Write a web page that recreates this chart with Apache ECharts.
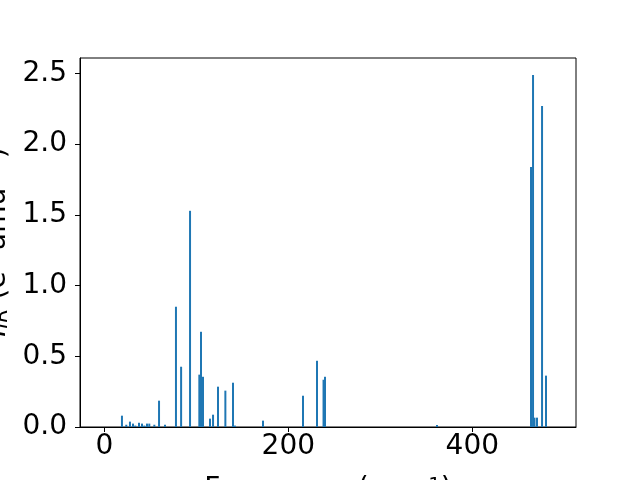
<!DOCTYPE html>
<html>
<head>
<meta charset="utf-8">
<script src="https://cdn.jsdelivr.net/npm/echarts@6/dist/echarts.min.js"></script>
<style>html,body{margin:0;padding:0;background:#fff}#c{width:640px;height:480px}</style>
</head>
<body>
<div id="c"></div>
<script>
const frequencies = [19.2, 23.9, 27.9, 31.2, 33.7, 37.7, 41.0, 43.5, 46.4, 48.9, 54.4, 59.5, 66.0, 77.9, 83.5, 93.2, 103.3, 105.1, 107.3, 114.9, 118.2, 123.6, 131.6, 139.9, 142.0, 172.5, 216.0, 231.2, 238.3, 239.9, 361.6, 463.8, 466.0, 467.6, 470.3, 475.8, 480.1];
const intensities = [0.08, 0.016, 0.038, 0.024, 0.01, 0.03, 0.024, 0.01, 0.024, 0.024, 0.016, 0.186, 0.016, 0.85, 0.426, 1.528, 0.37, 0.673, 0.355, 0.059, 0.087, 0.285, 0.257, 0.313, 0.01, 0.045, 0.221, 0.468, 0.334, 0.355, 0.014, 1.838, 2.488, 0.066, 0.066, 2.269, 0.363];
const xTicks = [0, 200, 400];
const yTicks = [0, 0.5, 1.0, 1.5, 2.0, 2.5];

const FONT = 'DejaVu Sans';
const chart = echarts.init(document.getElementById('c'), null, {renderer: 'canvas'});
const data = frequencies.map((f, i) => [f, intensities[i]]);
chart.setOption({
  animation: false,
  backgroundColor: '#fff',
  grid: {left: 80, right: 64, top: 58, bottom: 53, show: true, borderColor: '#000', borderWidth: 1},
  xAxis: {
    type: 'value', min: -26.4, max: 512.7,
    axisLine: {show: true, onZero: false, lineStyle: {color: '#000', width: 1}},
    axisTick: {show: true, inside: false, length: 5, customValues: xTicks, lineStyle: {color: '#000', width: 1}},
    axisLabel: {customValues: xTicks, color: '#000', fontFamily: FONT, fontSize: 28, margin: 6, formatter: v => String(v)},
    splitLine: {show: false}
  },
  yAxis: {
    type: 'value', min: 0, max: 2.608,
    axisLine: {show: true, onZero: false, lineStyle: {color: '#000', width: 1}},
    axisTick: {show: true, inside: false, length: 5, customValues: yTicks, lineStyle: {color: '#000', width: 1}},
    axisLabel: {customValues: yTicks, color: '#000', fontFamily: FONT, fontSize: 28, margin: 13, formatter: v => v.toFixed(1)},
    splitLine: {show: false}
  },
  series: [{
    type: 'bar', data: data, barWidth: 2, itemStyle: {color: '#1f77b4'}
  }],
  graphic: [
    {
      type: 'text', x: 328, y: 476,
      style: {
        text: '{n|Frequency (cm}{sup|−1}{n|)}',
        fill: '#000', font: '28px "DejaVu Sans"', align: 'center', verticalAlign: 'top',
        rich: {
          n: {fontSize: 28, fontFamily: FONT, verticalAlign: 'bottom', lineHeight: 28, fill: '#000'},
          sup: {fontSize: 20, fontFamily: FONT, verticalAlign: 'top', lineHeight: 20, padding: [0, 0, 16, 0], fill: '#000'}
        }
      }
    },
    {
      type: 'text', x: 12, y: 242, rotation: Math.PI / 2,
      style: {
        text: '{it|I}{sub|IR} (e{sup|2} amu{sup|−1})',
        fill: '#000', font: '28px "DejaVu Sans"', align: 'center', verticalAlign: 'bottom',
        rich: {
          it: {fontSize: 28, fontFamily: FONT, fontStyle: 'italic', fill: '#000'},
          sub: {fontSize: 20, fontFamily: FONT, fontStyle: 'italic', verticalAlign: 'bottom', fill: '#000'},
          sup: {fontSize: 20, fontFamily: FONT, verticalAlign: 'top', fill: '#000'}
        }
      }
    }
  ]
});
</script>
</body>
</html>
